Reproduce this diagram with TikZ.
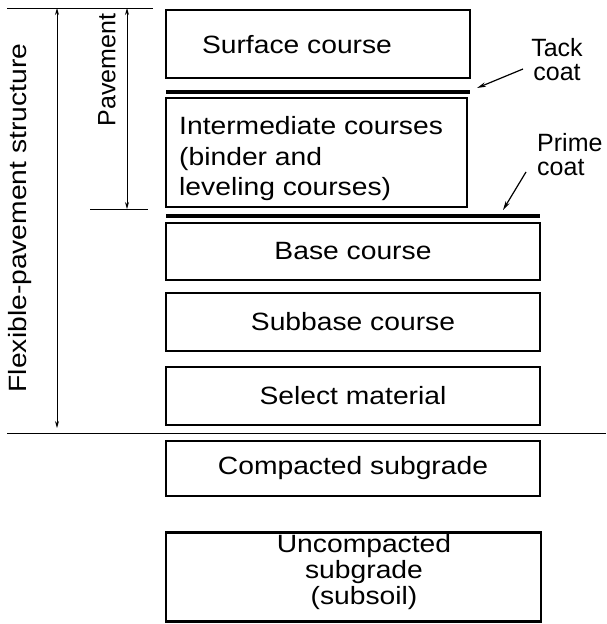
\documentclass[tikz,border=0pt]{standalone}
\usepackage{fontspec}
\setmainfont[FakeStretch=1.13]{Liberation Sans}
\newfontfamily\plainsans{Liberation Sans}
\usetikzlibrary{arrows.meta}
\begin{document}
\begin{tikzpicture}[x=1pt,y=-1pt,
  every node/.style={font=\fontsize{25}{30}\selectfont,inner sep=0pt},
  layer/.style={draw,line width=2.6pt,minimum width=#1},
  coat/.style={line width=4pt},
  thin/.style={line width=0.9pt},
  dim/.style={line width=0.9pt,{Stealth[length=7pt,width=4pt]}-{Stealth[length=7pt,width=4pt]}},
  ptr/.style={line width=1.2pt,-{Stealth[length=9pt,width=4.5pt]}}]
\useasboundingbox (0,0) rectangle (606,624);
% layers
\node[layer=304pt,minimum height=68pt] (surf) at (318,44) {};
\node (surft) at (297,45) {Surface course};
\node[layer=301pt,minimum height=109pt] (inter) at (316.5,152.5) {};
\node[align=left,anchor=west,font=\fontsize{25}{30.5}\selectfont] (intert) at (179,159) {Intermediate courses\\(binder and\\leveling courses)};
\node[layer=374pt,minimum height=57pt] (base) at (353,251.5) {Base course};
\node[layer=374pt,minimum height=58pt] (subb) at (353,322) {Subbase course};
\node[layer=374pt,minimum height=58pt] (sel) at (353,396) {Select material};
\node[layer=374pt,minimum height=55pt] (comp) at (353,468.5) {Compacted subgrade};
\node[layer=375pt,minimum height=89pt] (unc) at (353.5,577) {};
\node[align=center,font=\fontsize{25}{26}\selectfont] (unct) at (364,572) {Uncompacted\\subgrade\\(subsoil)};
% coats
\coordinate (tA) at (166,92); \coordinate (tB) at (470,92);
\draw[coat] (tA) -- (tB);
\coordinate (pA) at (166,216); \coordinate (pB) at (540,216);
\draw[coat] (pA) -- (pB);
\node[align=center,font=\plainsans\fontsize{25}{24}\selectfont] (tack) at (557,60) {Tack\\coat};
\coordinate (tackT) at (523,69); \coordinate (tackH) at (477,88);
\draw[ptr] (tackT) -- (tackH);
\node[align=left,anchor=west,font=\plainsans\fontsize{25}{24}\selectfont] (prime) at (537,155) {Prime\\coat};
\coordinate (primeT) at (526,172); \coordinate (primeH) at (503,210);
\draw[ptr] (primeT) -- (primeH);
% dimension lines
\coordinate (topL) at (7,8); \coordinate (topR) at (153,8);
\draw[thin] (topL) -- (topR);
\coordinate (pbL) at (90,209); \coordinate (pbR) at (148,209);
\draw[thin] (pbL) -- (pbR);
\coordinate (gL) at (7,433); \coordinate (gR) at (606,433);
\draw[thin] (gL) -- (gR);
\coordinate (fT) at (57,8); \coordinate (fB) at (57,428);
\draw[dim] (fT) -- (fB);
\coordinate (pT) at (127,8); \coordinate (pBt) at (127,209);
\draw[dim] (pT) -- (pBt);
\node[rotate=90] (flex) at (20,218) {Flexible-pavement structure};
\node[rotate=90,font=\plainsans\fontsize{25}{30}\selectfont] (pave) at (107,70) {Pavement};
\end{tikzpicture}
\end{document}
